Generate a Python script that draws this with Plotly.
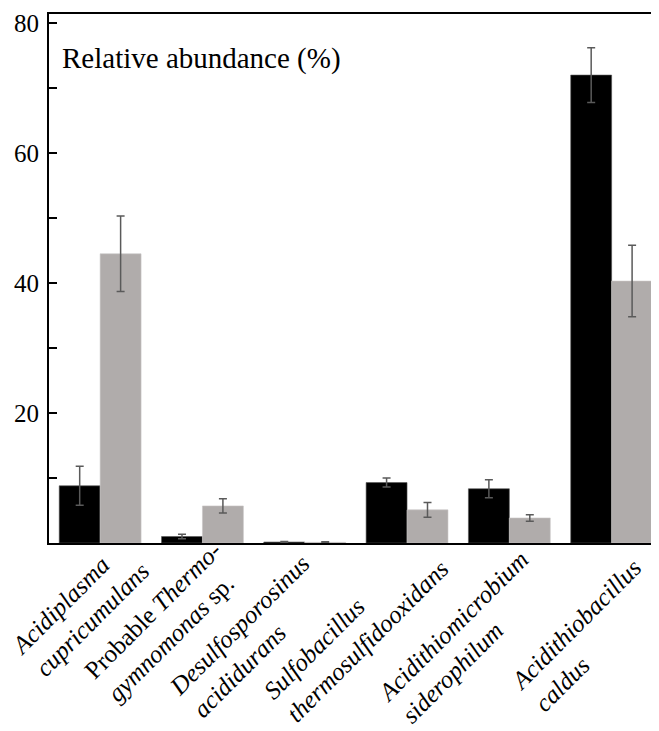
import plotly.graph_objects as go

categories = ["Acidiplasma cupricumulans", "Probable Thermogymnomonas sp.",
              "Desulfosporosinus acididurans", "Sulfobacillus thermosulfidooxidans",
              "Acidithiomicrobium siderophilum", "Acidithiobacillus caldus"]
tick_labels = ["<i>Acidiplasma</i><br><i>cupricumulans</i>",
               "Probable <i>Thermo-</i><br><i>gymnomonas</i> sp.",
               "<i>Desulfosporosinus</i><br><i>acididurans</i>",
               "<i>Sulfobacillus</i><br><i>thermosulfidooxidans</i>",
               "<i>Acidithiomicrobium</i><br><i>siderophilum</i>",
               "<i>Acidithiobacillus</i><br><i>caldus</i>"]
series1_values = [8.8, 1.0, 0.15, 9.3, 8.35, 72.0]
series1_errors = [3.0, 0.35, 0.1, 0.7, 1.4, 4.2]
series2_values = [44.5, 5.7, 0.1, 5.1, 3.85, 40.3]
series2_errors = [5.8, 1.1, 0.1, 1.15, 0.5, 5.5]
y_ticks = [0, 20, 40, 60, 80]
y_tick_text = ["", "20", "40", "60", "80"]

FONT = "Liberation Serif, Times New Roman, Tinos, DejaVu Serif, serif"
# label block centre offsets (px) relative to category centre / axis bottom
label_dx = [-20, -38, -54, -51, -45, -24]
label_dy = [66, 79, 94, 87, 95, 93]

x_idx = list(range(len(categories)))

fig = go.Figure()
fig.add_trace(go.Bar(
    x=x_idx, y=series1_values, name="Series 1",
    marker=dict(color="#000000", line=dict(color="#555555", width=0.6)),
    error_y=dict(type="data", array=series1_errors, visible=True,
                 color="#5a5a5a", thickness=1.5, width=4),
    showlegend=False))
fig.add_trace(go.Bar(
    x=x_idx, y=series2_values, name="Series 2",
    marker=dict(color="#b0acab", line=dict(color="#c8c5c4", width=0.6)),
    error_y=dict(type="data", array=series2_errors, visible=True,
                 color="#5a5a5a", thickness=1.5, width=4),
    showlegend=False))

for i, lab in enumerate(tick_labels):
    fig.add_annotation(x=i, y=0, xref="x", yref="y", text=lab,
                       textangle=-45, align="left", showarrow=False,
                       xanchor="center", yanchor="middle",
                       xshift=label_dx[i], yshift=-label_dy[i],
                       font=dict(family=FONT, size=25, color="black"))

fig.add_annotation(x=(60 - 49) / 610, y=(543 - 58) / 529, xref="paper", yref="paper",
                   text="Relative abundance (%)", showarrow=False,
                   xanchor="left", yanchor="middle",
                   font=dict(family=FONT, size=29, color="black"))

fig.update_layout(
    width=651, height=723,
    margin=dict(l=41, r=0, t=6, b=188),
    paper_bgcolor="white", plot_bgcolor="white",
    barmode="group", bargap=0.2, bargroupgap=0,
    font=dict(family=FONT, size=25, color="black"),
    xaxis=dict(range=[-0.5, 5.463], showticklabels=False, ticks="",
               showgrid=False, zeroline=False,
               showline=True, linecolor="black", linewidth=2, mirror=True),
    yaxis=dict(range=[0, 81.4], tickvals=y_ticks, ticktext=y_tick_text,
               ticks="inside", ticklen=8, tickwidth=2, tickcolor="black",
               minor=dict(dtick=10, tick0=0, ticks="inside", ticklen=8,
                          tickwidth=2, tickcolor="black", showgrid=False),
               showgrid=False, zeroline=False,
               showline=True, linecolor="black", linewidth=2,
               ticklabelstandoff=3,
               tickfont=dict(family=FONT, size=25, color="black")),
)

fig.write_html("out.html")
